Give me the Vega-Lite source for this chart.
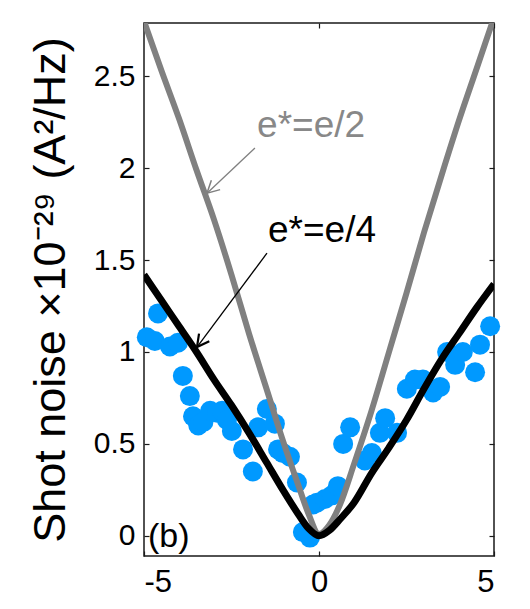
{
  "$schema": "https://vega.github.io/schema/vega-lite/v6.json",
  "width": 350,
  "height": 533,
  "autosize": {"type": "none"},
  "padding": {"left": 144, "top": 23, "right": 36, "bottom": 53},
  "background": "white",
  "config": {
    "view": {"stroke": "#1a1a1a", "strokeWidth": 1.5},
    "font": "Liberation Sans",
    "axis": {"grid": false, "domain": false, "tickColor": "#1a1a1a", "tickSize": -5, "tickWidth": 1.2, "labelColor": "black", "labelFont": "Liberation Sans", "titleFont": "Liberation Sans", "titleFontWeight": "normal", "titleColor": "black"}
  },
  "datasets": {
    "pts": [
      {"x": -4.92, "y": 1.08}, {"x": -4.69, "y": 1.06}, {"x": -4.6, "y": 1.21}, {"x": -4.26, "y": 1.03},
      {"x": -4.03, "y": 1.05}, {"x": -3.89, "y": 0.87}, {"x": -3.69, "y": 0.76}, {"x": -3.6, "y": 0.65},
      {"x": -3.45, "y": 0.6}, {"x": -3.3, "y": 0.62}, {"x": -3.11, "y": 0.68}, {"x": -2.91, "y": 0.67},
      {"x": -2.77, "y": 0.68}, {"x": -2.63, "y": 0.63}, {"x": -2.49, "y": 0.57}, {"x": -2.17, "y": 0.47},
      {"x": -1.89, "y": 0.35}, {"x": -1.74, "y": 0.59}, {"x": -1.49, "y": 0.69}, {"x": -1.26, "y": 0.61},
      {"x": -1.17, "y": 0.47}, {"x": -1.03, "y": 0.45}, {"x": -0.83, "y": 0.43}, {"x": -0.63, "y": 0.29},
      {"x": -0.46, "y": 0.02}, {"x": -0.26, "y": -0.01}, {"x": -0.17, "y": 0.17}, {"x": -0.06, "y": 0.18},
      {"x": 0.17, "y": 0.2}, {"x": 0.37, "y": 0.22}, {"x": 0.54, "y": 0.27}, {"x": 0.69, "y": 0.5},
      {"x": 0.89, "y": 0.59}, {"x": 1.31, "y": 0.41}, {"x": 1.51, "y": 0.45}, {"x": 1.74, "y": 0.56},
      {"x": 1.89, "y": 0.64}, {"x": 2.23, "y": 0.56}, {"x": 2.51, "y": 0.8}, {"x": 2.74, "y": 0.85},
      {"x": 2.97, "y": 0.85}, {"x": 3.26, "y": 0.78}, {"x": 3.46, "y": 0.81}, {"x": 3.66, "y": 1.0},
      {"x": 3.89, "y": 0.93}, {"x": 4.11, "y": 1.0}, {"x": 4.46, "y": 0.89}, {"x": 4.6, "y": 1.04},
      {"x": 4.89, "y": 1.14}
    ],
    "gray": [
      {"x": -5, "y": 2.8}, {"x": -4.5, "y": 2.53}, {"x": -4, "y": 2.27}, {"x": -3.5, "y": 1.99},
      {"x": -3, "y": 1.72}, {"x": -2.5, "y": 1.42}, {"x": -2, "y": 1.1}, {"x": -1.5, "y": 0.8},
      {"x": -1, "y": 0.5}, {"x": -0.6, "y": 0.28}, {"x": -0.3, "y": 0.12}, {"x": 0, "y": 0.01},
      {"x": 0.3, "y": 0.06}, {"x": 0.6, "y": 0.17}, {"x": 1, "y": 0.39}, {"x": 1.5, "y": 0.68},
      {"x": 2, "y": 1.0}, {"x": 2.5, "y": 1.32}, {"x": 3, "y": 1.65}, {"x": 3.5, "y": 1.96},
      {"x": 4, "y": 2.26}, {"x": 4.5, "y": 2.54}, {"x": 5, "y": 2.82}
    ],
    "black": [
      {"x": -5, "y": 1.42}, {"x": -4.5, "y": 1.28}, {"x": -4, "y": 1.14}, {"x": -3.5, "y": 1.0},
      {"x": -3, "y": 0.85}, {"x": -2.5, "y": 0.71}, {"x": -2, "y": 0.56}, {"x": -1.5, "y": 0.4},
      {"x": -1, "y": 0.24}, {"x": -0.6, "y": 0.12}, {"x": -0.3, "y": 0.04}, {"x": 0, "y": 0.0},
      {"x": 0.3, "y": 0.03}, {"x": 0.6, "y": 0.09}, {"x": 1, "y": 0.18}, {"x": 1.5, "y": 0.34},
      {"x": 2, "y": 0.48}, {"x": 2.5, "y": 0.63}, {"x": 3, "y": 0.8}, {"x": 3.5, "y": 0.96},
      {"x": 4, "y": 1.1}, {"x": 4.5, "y": 1.24}, {"x": 5, "y": 1.37}
    ],
    "one": [{}]
  },
  "layer": [
    {
      "data": {"name": "pts"},
      "mark": {"type": "circle", "size": 400, "opacity": 1, "color": "#0099FF"},
      "encoding": {
        "x": {"field": "x", "type": "quantitative", "scale": {"domain": [-5, 5], "nice": false, "zero": false},
              "axis": {"orient": "bottom", "values": [-5, 0, 5], "labelExpr": "'' + datum.value", "labelFontSize": 31, "labelPadding": 16, "title": null}},
        "y": {"field": "y", "type": "quantitative", "scale": {"domain": [-0.11, 2.79], "nice": false, "zero": false},
              "axis": {"orient": "left", "values": [0, 0.5, 1, 1.5, 2, 2.5], "labelExpr": "'' + datum.value", "labelFontSize": 30, "labelPadding": 14, "title": "Shot noise ×10⁻²⁹ (A²/Hz)", "titleFontSize": 45, "titlePadding": 20}}
      }
    },
    {
      "data": {"name": "gray"},
      "mark": {"type": "line", "color": "#808080", "strokeWidth": 6, "interpolate": "monotone", "clip": true},
      "encoding": {
        "x": {"field": "x", "type": "quantitative", "axis": {"orient": "top", "values": [-5, 0, 5], "labels": false, "title": null}},
        "y": {"field": "y", "type": "quantitative", "axis": {"orient": "right", "values": [0, 0.5, 1, 1.5, 2, 2.5], "labels": false, "title": null}}
      }
    },
    {
      "data": {"name": "black"},
      "mark": {"type": "line", "color": "black", "strokeWidth": 7, "interpolate": "monotone", "clip": true},
      "encoding": {
        "x": {"field": "x", "type": "quantitative", "axis": null},
        "y": {"field": "y", "type": "quantitative", "axis": null}
      }
    },
    {
      "data": {"name": "one"},
      "mark": {"type": "rule", "color": "#808080", "strokeWidth": 1.3},
      "encoding": {
        "x": {"datum": -1.83, "type": "quantitative", "axis": null}, "y": {"datum": 2.11, "type": "quantitative", "axis": null},
        "x2": {"datum": -3.2}, "y2": {"datum": 1.864}
      }
    },
    {
      "data": {"name": "one"},
      "mark": {"type": "point", "shape": "M-0.8,-1.5L0,0L0.8,-1.5", "filled": false, "size": 256, "angle": 46.8, "stroke": "#808080", "strokeWidth": 1.5, "opacity": 1},
      "encoding": {
        "x": {"datum": -3.2, "type": "quantitative", "axis": null}, "y": {"datum": 1.864, "type": "quantitative", "axis": null}
      }
    },
    {
      "data": {"name": "one"},
      "mark": {"type": "rule", "color": "black", "strokeWidth": 1.3},
      "encoding": {
        "x": {"datum": -1.486, "type": "quantitative", "axis": null}, "y": {"datum": 1.538, "type": "quantitative", "axis": null},
        "x2": {"datum": -3.486}, "y2": {"datum": 1.027}
      }
    },
    {
      "data": {"name": "one"},
      "mark": {"type": "point", "shape": "M-0.8,-1.5L0,0L0.8,-1.5", "filled": false, "size": 256, "angle": 36.7, "stroke": "black", "strokeWidth": 2.2, "opacity": 1},
      "encoding": {
        "x": {"datum": -3.486, "type": "quantitative", "axis": null}, "y": {"datum": 1.027, "type": "quantitative", "axis": null}
      }
    },
    {
      "data": {"name": "one"},
      "mark": {"type": "text", "text": "e*=e/2", "fontSize": 37, "align": "left", "baseline": "alphabetic", "color": "#888888"},
      "encoding": {
        "x": {"datum": -1.77, "type": "quantitative", "axis": null}, "y": {"datum": 2.168, "type": "quantitative", "axis": null}
      }
    },
    {
      "data": {"name": "one"},
      "mark": {"type": "text", "text": "e*=e/4", "fontSize": 37, "align": "left", "baseline": "alphabetic", "color": "black"},
      "encoding": {
        "x": {"datum": -1.457, "type": "quantitative", "axis": null}, "y": {"datum": 1.598, "type": "quantitative", "axis": null}
      }
    },
    {
      "data": {"name": "one"},
      "mark": {"type": "text", "text": "(b)", "fontSize": 34, "align": "left", "baseline": "alphabetic", "color": "black"},
      "encoding": {
        "x": {"datum": -4.886, "type": "quantitative", "axis": null}, "y": {"datum": -0.06, "type": "quantitative", "axis": null}
      }
    }
  ],
  "resolve": {"axis": {"x": "independent", "y": "independent"}}
}
